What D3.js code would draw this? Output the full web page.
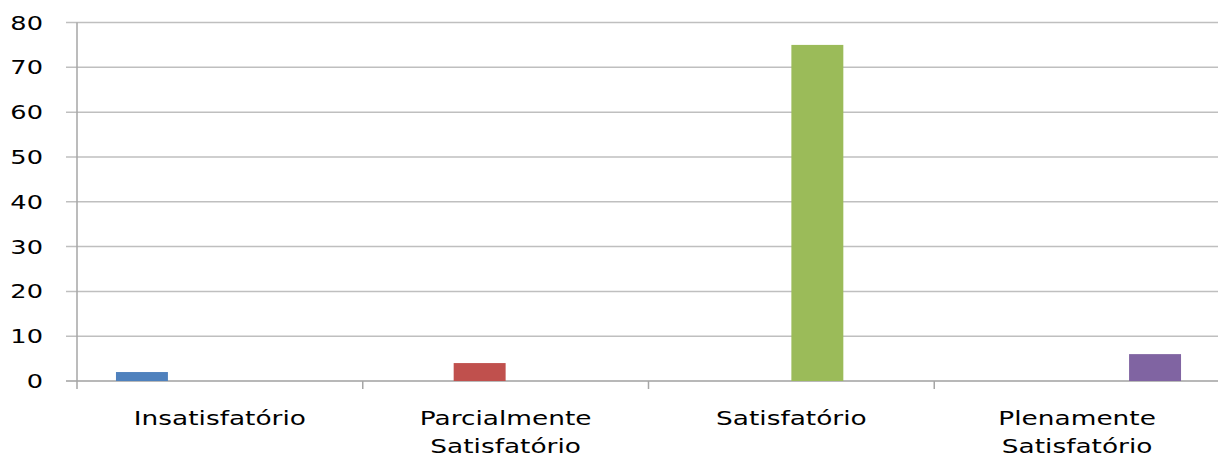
<!DOCTYPE html>
<html lang="pt">
<head>
	<meta charset="UTF-8">
	<title>Chart</title>
	<script src="https://cdnjs.cloudflare.com/ajax/libs/d3/7.8.5/d3.min.js"></script>
	<style>
		*{ margin:0; padding:0; }
		body{ background:#fff; }
		text{ font-family:"DejaVu Sans", sans-serif; fill:#000; }
	</style>
</head>
<body>
	<div id="container"></div>
<script>
	var categories=['Insatisfatório','Parcialmente Satisfatório','Satisfatório','Plenamente Satisfatório']
	var labelLines=[['Insatisfatório'],['Parcialmente','Satisfatório'],['Satisfatório'],['Plenamente','Satisfatório']]
	var values=[2,4,75,6]
	var colors=['#4f81bd','#c0504d','#9bbb59','#8064a2']
	var yTicks=[0,10,20,30,40,50,60,70,80]

	var width=1218,
	height=459,
	margin={left:77,top:22.5,right:-2,bottom:78},
	g_width=width-margin.left-margin.right,
	g_height=height-margin.top-margin.bottom

	var svg=d3.select('#container')
	.append('svg')
	.attr('width',width)
	.attr('height',height)

	var g=svg.append('g')
	.attr('transform','translate('+margin.left+','+margin.top+')')

	var scale_x=d3.scaleBand()
	.domain(categories)
	.range([0,g_width])
	.padding(0)

	// each series occupies its own slot inside the group
	var scale_s=d3.scaleBand()
	.domain(d3.range(values.length))
	.range([0,scale_x.bandwidth()])
	.paddingInner(0)
	.paddingOuter(0.75)

	var scale_y=d3.scaleLinear()
	.domain([0,80])
	.range([g_height,0])

	// gridlines
	g.selectAll('.grid')
	.data(yTicks)
	.enter()
	.append('line')
	.attr('x1',-11)
	.attr('x2',g_width)
	.attr('y1',function(d){return scale_y(d)})
	.attr('y2',function(d){return scale_y(d)})
	.attr('stroke',function(d){return d===0?'#a0a0a0':'#bfbfbf'})
	.attr('stroke-width',1.5)

	// y axis line
	g.append('line')
	.attr('x1',0).attr('x2',0)
	.attr('y1',0).attr('y2',g_height+8)
	.attr('stroke','#a6a6a6')
	.attr('stroke-width',1.5)

	// category ticks
	g.selectAll('.ctick')
	.data(categories.slice(1))
	.enter()
	.append('line')
	.attr('x1',function(d){return scale_x(d)})
	.attr('x2',function(d){return scale_x(d)})
	.attr('y1',g_height)
	.attr('y2',g_height+8)
	.attr('stroke','#a6a6a6')
	.attr('stroke-width',1.5)

	// bars
	g.selectAll('.bar')
	.data(values)
	.enter()
	.append('rect')
	.attr('x',function(d,i){return scale_x(categories[i])+scale_s(i)})
	.attr('width',scale_s.bandwidth())
	.attr('y',function(d){return scale_y(d)})
	.attr('height',function(d){return g_height-scale_y(d)})
	.attr('fill',function(d,i){return colors[i]})

	// y tick labels
	g.selectAll('.ylab')
	.data(yTicks)
	.enter()
	.append('text')
	.attr('transform',function(d){return 'translate(-34,'+(scale_y(d)+7)+') scale(1.35,1)'})
	.attr('text-anchor','end')
	.style('font-size','19px')
	.text(function(d){return d})

	// category labels
	var cl=g.selectAll('.clab')
	.data(categories)
	.enter()
	.append('text')
	.attr('transform',function(d){return 'translate('+(scale_x(d)+scale_x.bandwidth()/2)+','+(g_height+44)+') scale(1.32,1)'})
	.attr('text-anchor','middle')
	.style('font-size','20px')

	cl.selectAll('tspan')
	.data(function(d,i){return labelLines[i]})
	.enter()
	.append('tspan')
	.attr('x',0)
	.attr('dy',function(d,i){return i===0?0:28})
	.text(function(d){return d})
</script>
</body>
</html>
